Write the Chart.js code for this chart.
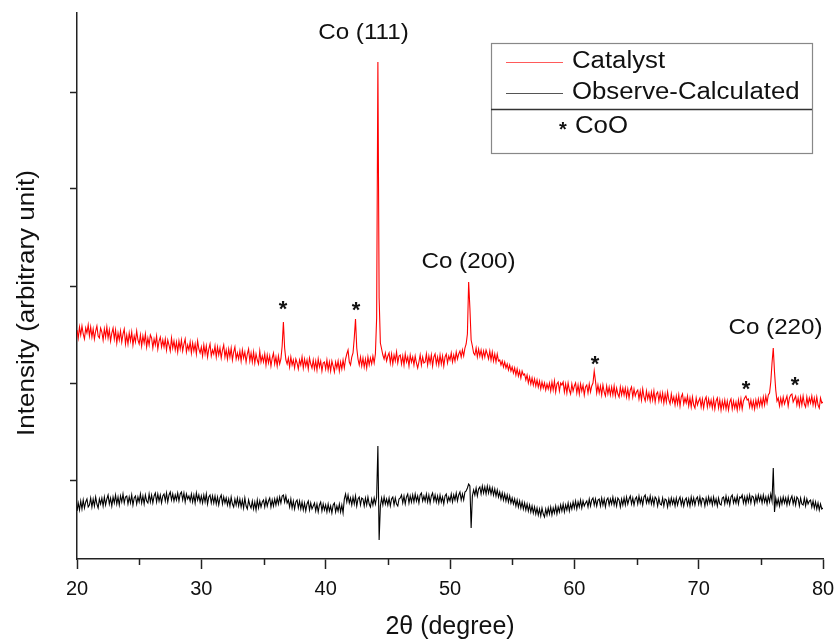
<!DOCTYPE html>
<html><head><meta charset="utf-8">
<script src="https://cdn.jsdelivr.net/npm/chart.js@4.4.1/dist/chart.umd.min.js"></script>
<style>html,body{margin:0;padding:0;background:#fff}#wrap{width:835px;height:642px}</style>
</head><body><div id="wrap"><canvas id="c" width="835" height="642"></canvas></div>
<script>
// 2θ sampling grid (degrees)
const thetaStart = 20, thetaStep = 0.1;
// Catalyst XRD pattern (arbitrary units), one value per 0.1°, 20°–80°
const catalyst = [
228,220,231,223,232,224,219,230,225,233,
222,231,221,229,219,227,232,222,220,230,
226,218,229,221,231,220,228,217,225,230,
219,228,215,225,218,227,216,224,229,214,
223,214,225,217,226,213,222,216,227,218,
214,223,212,222,215,224,211,220,213,223,
220,210,219,213,222,209,217,221,211,218,
211,219,208,218,213,207,220,210,217,208,
216,206,217,209,218,207,214,219,206,213,
208,216,205,215,207,214,204,217,209,205,
211,202,213,204,212,201,209,214,202,208,
204,212,201,211,203,210,200,208,213,201,
208,199,209,201,210,198,206,211,199,205,
199,207,197,208,200,206,196,204,209,197,
205,196,206,195,204,198,194,207,196,202,
196,204,193,203,195,202,192,200,205,194,
201,192,202,194,199,212,236,210,198,194,
200,191,201,193,198,190,199,195,189,198,
193,201,190,199,192,198,189,200,194,190,
198,189,197,188,199,191,197,187,195,196,
189,198,188,196,187,197,192,186,196,190,
197,187,196,189,198,190,199,204,208,196,
193,201,205,220,239,210,199,193,201,192,
200,191,199,190,201,193,200,194,202,195,
204,240,496,260,215,209,203,199,205,197,
202,205,195,204,194,203,197,206,195,202,
203,194,202,193,204,196,201,192,203,196,
201,193,202,195,190,196,203,193,201,195,
196,204,193,202,195,203,192,201,204,194,
201,193,203,194,202,192,201,204,195,202,
198,205,196,203,197,206,199,204,207,201,
208,202,210,214,224,276,250,218,212,205,
203,210,201,209,202,208,200,207,201,208,
204,199,207,198,206,197,204,196,204,197,
198,193,197,191,196,190,194,188,193,187,
191,185,190,183,189,182,187,180,187,183,
184,178,183,175,181,174,180,173,179,172,
178,171,177,169,176,170,175,168,174,169,
175,167,176,168,177,166,174,176,167,175,
173,176,166,174,165,175,168,164,174,167,
172,175,165,173,164,174,167,173,163,171,
173,165,174,166,172,175,187,177,165,173,
165,172,163,173,166,162,172,164,171,163,
171,163,172,162,170,164,161,171,163,170,
163,170,161,169,160,168,171,161,169,162,
166,168,159,167,158,169,161,157,167,159,
165,157,166,158,167,156,164,166,157,165,
157,165,155,164,156,166,158,154,164,156,
161,153,162,154,163,152,161,164,154,160,
155,162,152,160,151,161,153,150,160,153,
157,160,151,159,150,158,161,151,159,152,
158,150,159,149,157,160,150,158,148,157,
150,158,149,157,148,156,159,149,157,150,
156,148,158,150,159,149,157,160,162,158,
159,151,158,150,157,149,158,151,159,152,
159,152,161,153,162,155,163,165,176,195,
210,186,168,157,160,152,160,153,161,154,
158,162,152,160,163,164,156,159,162,153,
160,152,161,153,162,154,151,161,153,160,
155,162,153,160,152,161,153,150,160,155,
156
];
// Observe-Calculated difference curve (arbitrary units), same grid
const observeCalculated = [
47,55,48,57,49,58,50,56,59,51,
53,60,51,59,52,61,54,50,59,54,
60,52,61,53,59,63,54,60,52,61,
55,63,54,61,53,62,56,64,55,61,
62,54,61,55,63,53,60,62,54,61,
56,64,55,62,54,63,57,55,64,56,
63,55,62,65,56,64,57,63,55,62,
64,57,65,56,63,66,58,64,57,63,
58,65,57,64,66,58,65,56,64,59,
62,57,64,56,63,55,65,58,63,56,
62,55,63,56,64,54,61,63,55,62,
55,62,54,61,53,60,63,54,61,55,
60,53,59,52,61,54,51,59,53,60,
52,59,51,58,50,60,52,49,58,53,
50,57,49,56,48,58,50,57,51,56,
58,51,59,52,57,60,51,58,52,59,
53,60,54,61,55,62,63,56,62,55,
58,51,59,50,57,49,56,58,50,57,
49,56,48,55,47,54,57,48,55,49,
52,55,47,54,46,53,56,47,54,48,
53,46,54,47,52,45,53,55,46,52,
47,54,46,53,45,59,64,56,63,55,
60,53,61,54,62,52,59,61,53,60,
59,52,60,53,61,54,51,59,53,60,
54,61,112,18,52,60,53,61,54,59,
53,60,52,59,61,53,60,54,52,59,
60,63,55,62,54,61,64,55,62,56,
63,56,64,57,62,55,63,65,57,62,
57,64,56,63,55,62,65,57,63,56,
62,55,63,56,61,54,62,64,56,61,
57,64,56,63,58,65,57,63,66,58,
64,58,66,67,70,74,72,30,62,68,
63,70,62,69,71,64,72,65,71,64,
72,65,71,64,70,63,69,62,68,61,
66,59,65,58,64,57,63,56,62,55,
60,54,59,52,58,51,57,50,56,49,
55,48,54,47,53,46,52,45,51,44,
50,43,49,42,50,44,41,49,43,50,
44,51,43,50,45,52,44,51,46,53,
47,54,46,53,48,55,47,54,49,56,
50,57,49,56,51,58,50,57,52,55,
57,51,59,52,58,60,53,59,52,58,
59,52,60,53,59,51,58,60,53,59,
54,61,53,59,52,60,58,51,59,53,
60,53,61,54,59,62,54,60,53,59,
61,54,62,55,60,53,61,63,55,60,
55,62,54,60,53,61,59,52,60,54,
53,60,52,59,58,51,59,53,60,54,
59,52,60,53,58,61,53,59,52,58,
60,53,59,52,61,54,60,53,59,61,
54,61,53,60,59,52,60,54,61,55,
60,53,61,54,59,52,60,54,53,60,
61,54,62,55,60,53,61,63,55,60,
55,62,54,61,60,63,55,61,54,62,
56,63,55,62,61,54,62,56,63,57,
62,55,63,56,61,54,62,56,64,57,
90,46,60,53,59,52,60,54,61,55,
60,53,61,54,59,62,54,60,53,61,
59,52,60,54,53,60,52,59,54,57,
58,51,57,50,56,49,55,48,54,49,
50
];
const xMajorTicks = [20, 30, 40, 50, 60, 70, 80];
const xMinorTicks = [25, 35, 45, 55, 65, 75];
const yTicks = [78, 175, 272, 369, 466];
const seriesNames = ['Catalyst', 'Observe-Calculated'];
const peakLabels = ['Co (111)', 'Co (200)', 'Co (220)'];
const peakLabelTheta = [43.04, 51.49, 76.18];
const peakLabelY = [525, 296, 230];
const cooTheta = [36.57, 42.44, 61.66, 73.81, 77.75];
const cooY = [254, 253, 199, 174, 178];

const FONT = "'Liberation Sans', Arial, Helvetica, sans-serif";
const toPoints = arr => arr.map((v, i) => ({ x: +(thetaStart + i * thetaStep).toFixed(1), y: v }));

function drawText(ctx, s, x, y, size, stretch, align, baseline, rot, weight) {
  ctx.save();
  ctx.translate(x, y);
  if (rot) ctx.rotate(rot);
  ctx.scale(stretch, 1);
  ctx.font = (weight || 'normal') + ' ' + size + 'px ' + FONT;
  ctx.fillStyle = '#111';
  ctx.textAlign = align;
  ctx.textBaseline = baseline;
  ctx.fillText(s, 0, 0);
  ctx.restore();
}

const decor = {
  id: 'decor',
  afterDraw(chart) {
    const ctx = chart.ctx, xs = chart.scales.x, ys = chart.scales.y, ca = chart.chartArea;
    ctx.save();
    ctx.strokeStyle = '#222'; ctx.lineWidth = 1.5;
    xMinorTicks.forEach(v => {
      const px = Math.round(xs.getPixelForValue(v)) + 0.5;
      ctx.beginPath(); ctx.moveTo(px, ca.bottom); ctx.lineTo(px, ca.bottom + 6); ctx.stroke();
    });
    ctx.restore();
    drawText(ctx, 'Intensity (arbitrary unit)', 28, 303, 23, 1.13, 'center', 'middle', -Math.PI / 2);
    peakLabels.forEach((t, i) => {
      drawText(ctx, t, xs.getPixelForValue(peakLabelTheta[i]), ys.getPixelForValue(peakLabelY[i]), 22, 1.1, 'center', 'middle');
    });
    cooTheta.forEach((t, i) => {
      drawText(ctx, '*', xs.getPixelForValue(t), ys.getPixelForValue(cooY[i]) + 12, 22, 1, 'center', 'alphabetic', 0, 'bold');
    });
    ctx.save();
    ctx.strokeStyle = '#888'; ctx.lineWidth = 1.2;
    ctx.strokeRect(491.5, 43.5, 321, 110);
    ctx.strokeStyle = '#333'; ctx.lineWidth = 1.5;
    ctx.beginPath(); ctx.moveTo(491, 109.5); ctx.lineTo(812, 109.5); ctx.stroke();
    ctx.lineWidth = 1.2;
    ctx.strokeStyle = '#ff5a5a';
    ctx.beginPath(); ctx.moveTo(506, 62.5); ctx.lineTo(563, 62.5); ctx.stroke();
    ctx.strokeStyle = '#555';
    ctx.beginPath(); ctx.moveTo(506, 93.5); ctx.lineTo(563, 93.5); ctx.stroke();
    ctx.restore();
    drawText(ctx, seriesNames[0], 572, 62, 23, 1.12, 'left', 'middle');
    drawText(ctx, seriesNames[1], 572, 93, 23, 1.12, 'left', 'middle');
    drawText(ctx, '*', 563, 136, 20, 1, 'center', 'alphabetic', 0, 'bold');
    drawText(ctx, 'CoO', 575, 127, 23, 1.12, 'left', 'middle');
  }
};

new Chart(document.getElementById('c'), {
  type: 'line',
  data: {
    datasets: [
      { label: seriesNames[0], data: toPoints(catalyst), borderColor: '#ff0000', borderWidth: 1.1, pointRadius: 0, tension: 0 },
      { label: seriesNames[1], data: toPoints(observeCalculated), borderColor: '#000000', borderWidth: 1.1, pointRadius: 0, tension: 0 }
    ]
  },
  options: {
    animation: false, responsive: false, devicePixelRatio: 1,
    layout: { padding: { left: 0, right: 12, top: 13, bottom: 0 } },
    plugins: { legend: { display: false }, tooltip: { enabled: false } },
    scales: {
      x: {
        type: 'linear', min: 20, max: 80,
        afterBuildTicks: s => { s.ticks = xMajorTicks.map(v => ({ value: v })); },
        afterFit: s => { s.height = 83; s.paddingLeft = 0; s.paddingRight = 0; },
        grid: { drawOnChartArea: false, drawTicks: true, tickLength: 10, tickWidth: 1.5, tickColor: '#222' },
        border: { display: true, color: '#222', width: 1.5 },
        ticks: { color: '#111', font: { family: FONT, size: 20 }, padding: 8, maxRotation: 0, autoSkip: false },
        title: { display: true, text: '2θ (degree)', color: '#111', font: { family: FONT, size: 25 }, padding: { top: 0, bottom: 0 } }
      },
      y: {
        min: -1, max: 545,
        afterBuildTicks: s => { s.ticks = yTicks.map(v => ({ value: v })); },
        afterFit: s => { s.width = 77; },
        grid: { drawOnChartArea: false, drawTicks: true, tickLength: 7, tickWidth: 1.5, tickColor: '#222' },
        border: { display: true, color: '#222', width: 1.5 },
        ticks: { display: false }
      }
    }
  },
  plugins: [decor]
});
</script>
</body></html>
